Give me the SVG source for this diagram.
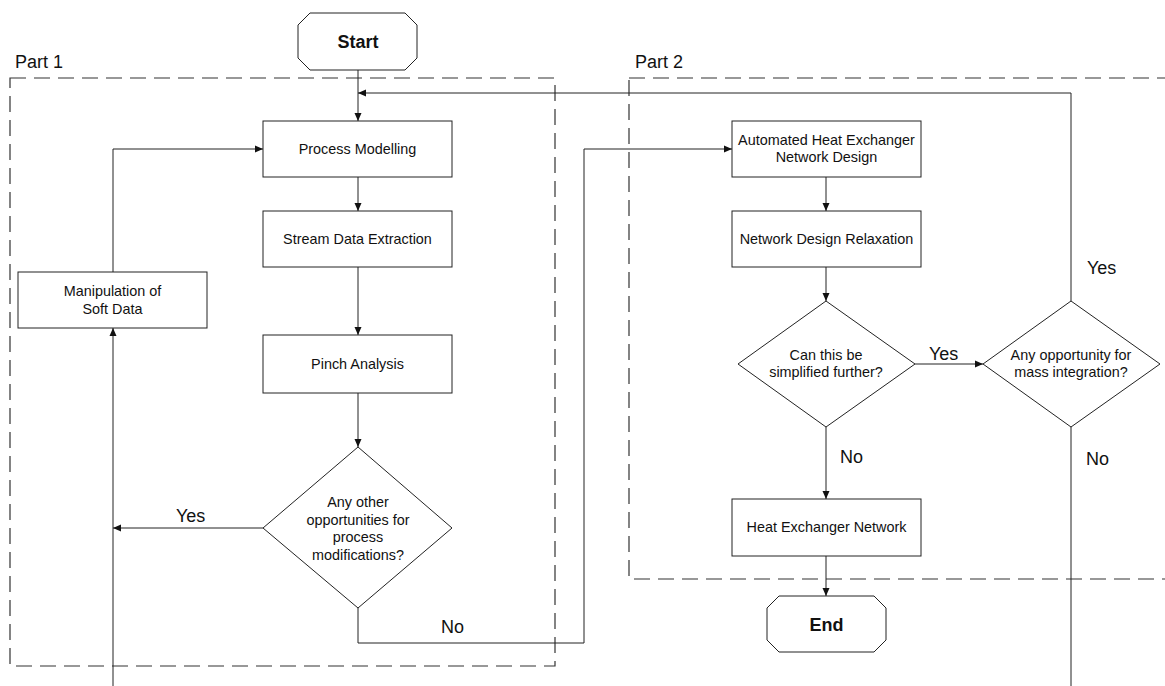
<svg xmlns="http://www.w3.org/2000/svg" width="1165" height="686" viewBox="0 0 1165 686">
  <style>
    .box { fill: #ffffff; stroke: #222222; stroke-width: 1; }
    .part { fill: none; stroke: #333333; stroke-width: 1.2; stroke-dasharray: 16 8; }
    .wire { fill: none; stroke: #222222; stroke-width: 1; }
    .t { font-family: "Liberation Sans", Arial, sans-serif; font-size: 14.4px; fill: #111111; text-anchor: middle; }
    .term { font-family: "Liberation Sans", Arial, sans-serif; font-size: 18px; font-weight: bold; fill: #111111; text-anchor: middle; }
    .lbl { font-family: "Liberation Sans", Arial, sans-serif; font-size: 18px; fill: #111111; }
  </style>
  <defs>
    <marker id="arrow" viewBox="0 0 8 8" refX="8" refY="4" markerWidth="8" markerHeight="8" markerUnits="userSpaceOnUse" orient="auto">
      <path d="M0,0.5 L8,4 L0,7.5 Z" fill="#111111"/>
    </marker>
  </defs>
  <rect width="1165" height="686" fill="#ffffff"/>

  <!-- dashed part frames -->
  <g id="part1">
    <rect class="part" x="10" y="78" width="545" height="588"/>
    <text class="lbl" x="15" y="68">Part 1</text>
  </g>
  <g id="part2">
    <rect class="part" x="629" y="78" width="600" height="501"/>
    <text class="lbl" x="635" y="68">Part 2</text>
  </g>

  <!-- connectors -->
  <g id="connectors">
    <path class="wire" d="M358,70 V121" marker-end="url(#arrow)"/>
    <path class="wire" d="M358,177 V211" marker-end="url(#arrow)"/>
    <path class="wire" d="M358,267 V335" marker-end="url(#arrow)"/>
    <path class="wire" d="M358,393 V447" marker-end="url(#arrow)"/>
    <path class="wire" d="M263,528 H113" marker-end="url(#arrow)"/>
    <path class="wire" d="M113,686 V328" marker-end="url(#arrow)"/>
    <path class="wire" d="M113,272 V149 H263" marker-end="url(#arrow)"/>
    <path class="wire" d="M358,608 V643 H584 V149 H732" marker-end="url(#arrow)"/>
    <path class="wire" d="M826,177 V211" marker-end="url(#arrow)"/>
    <path class="wire" d="M826,267 V301" marker-end="url(#arrow)"/>
    <path class="wire" d="M915,364 H983" marker-end="url(#arrow)"/>
    <path class="wire" d="M826,427 V499" marker-end="url(#arrow)"/>
    <path class="wire" d="M826,556 V596" marker-end="url(#arrow)"/>
    <path class="wire" d="M1071,301 V93 H358" marker-end="url(#arrow)"/>
    <path class="wire" d="M1071,427 V686"/>
    <text class="lbl" x="176" y="522">Yes</text>
    <text class="lbl" x="441" y="633">No</text>
    <text class="lbl" x="929" y="360">Yes</text>
    <text class="lbl" x="840" y="463">No</text>
    <text class="lbl" x="1086" y="465">No</text>
    <text class="lbl" x="1087" y="274">Yes</text>
  </g>

  <g id="start">
    <path class="box" d="M310,13 H405 L417,25 V58 L405,70 H310 L298,58 V25 Z"/>
    <text class="term" x="358" y="47.5">Start</text>
  </g>
  <g id="process-modelling">
    <rect class="box" x="263" y="121" width="189" height="56"/>
    <text class="t" x="357.5" y="154">Process Modelling</text>
  </g>
  <g id="stream-data">
    <rect class="box" x="263" y="211" width="189" height="56"/>
    <text class="t" x="357.5" y="244">Stream Data Extraction</text>
  </g>
  <g id="pinch">
    <rect class="box" x="263" y="335" width="189" height="58"/>
    <text class="t" x="357.5" y="369">Pinch Analysis</text>
  </g>
  <g id="modifications">
    <path class="box" d="M358,447 L452,528 L358,608 L263,528 Z"/>
    <text class="t" x="358" y="507">Any other</text>
    <text class="t" x="358" y="524.5">opportunities for</text>
    <text class="t" x="358" y="542">process</text>
    <text class="t" x="358" y="559.5">modifications?</text>
  </g>
  <g id="soft-data">
    <rect class="box" x="18" y="272" width="189" height="56"/>
    <text class="t" x="112.5" y="296">Manipulation of</text>
    <text class="t" x="112.5" y="313.5">Soft Data</text>
  </g>
  <g id="hen-design">
    <rect class="box" x="732" y="121" width="189" height="56"/>
    <text class="t" x="826.5" y="145">Automated Heat Exchanger</text>
    <text class="t" x="826.5" y="162">Network Design</text>
  </g>
  <g id="relaxation">
    <rect class="box" x="732" y="211" width="189" height="56"/>
    <text class="t" x="826.5" y="243.5">Network Design Relaxation</text>
  </g>
  <g id="simplify">
    <path class="box" d="M826,301 L915,364 L826,427 L738,364 Z"/>
    <text class="t" x="826" y="359.5">Can this be</text>
    <text class="t" x="826" y="377">simplified further?</text>
  </g>
  <g id="mass-integration">
    <path class="box" d="M1071,301 L1160,364 L1071,427 L983,364 Z"/>
    <text class="t" x="1071" y="359.5">Any opportunity for</text>
    <text class="t" x="1071" y="377">mass integration?</text>
  </g>
  <g id="hen">
    <rect class="box" x="732" y="499" width="189" height="57"/>
    <text class="t" x="826.5" y="532">Heat Exchanger Network</text>
  </g>
  <g id="end">
    <path class="box" d="M779,596 H874 L886,608 V640 L874,652 H779 L767,640 V608 Z"/>
    <text class="term" x="826.5" y="631">End</text>
  </g>
</svg>
